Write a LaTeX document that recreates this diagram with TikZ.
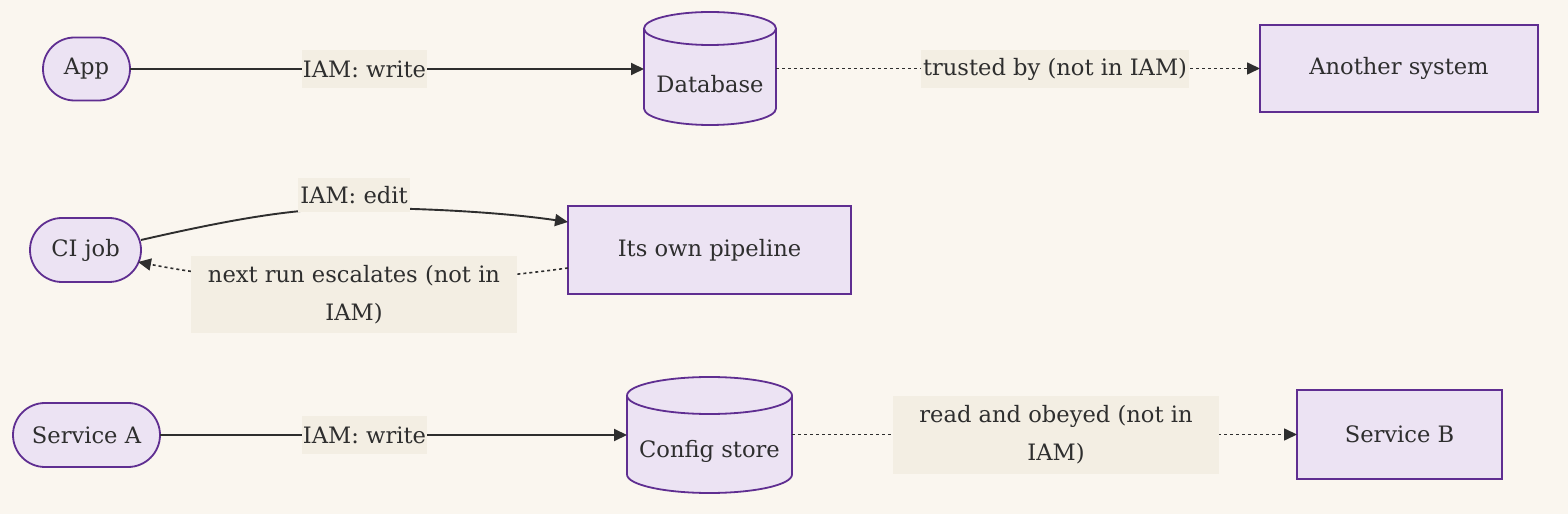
\documentclass[tikz,border=0pt]{standalone}
\usepackage{fontspec}
\setmainfont{DejaVu Serif}
\usetikzlibrary{arrows.meta,calc,shapes.misc}
\definecolor{bg}{HTML}{FAF6EF}
\definecolor{nfill}{HTML}{ECE3F3}
\definecolor{nborder}{HTML}{5F2E91}
\definecolor{lfill}{HTML}{F3EEE3}
\definecolor{ink}{HTML}{2E2E2E}
\tikzset{
  base/.style={inner sep=0pt, outer sep=0pt, text=ink},
  stadium/.style={base, rounded rectangle, draw=nborder, fill=nfill, line width=1.8pt},
  box/.style={base, rectangle, draw=nborder, fill=nfill, line width=1.8pt},
  ghost/.style={base, rectangle},
  cylbody/.style={draw=nborder, fill=nfill, line width=1.8pt},
  cylline/.style={draw=nborder, line width=1.8pt},
  lbl/.style={base, fill=lfill, align=center},
  edge/.style={draw=ink, line width=1.9pt, -{Triangle[length=13pt,width=12pt]}},
  dotedge/.style={draw=ink, line width=1.6pt, dash pattern=on 3pt off 3pt, -{Triangle[length=13pt,width=12pt]}},
}
\begin{document}
\begin{tikzpicture}[x=1pt,y=1pt, font=\fontsize{22.6}{38}\selectfont]
\fill[bg] (0,0) rectangle (1568,514);
\useasboundingbox (0,0) rectangle (1568,514);

% row 1
\node[stadium, minimum width=87pt, minimum height=63pt] (app) at (86.5,445) {App};
\node[ghost, minimum width=132pt, minimum height=113pt] (db) at (710,445.5) {};
\path[cylbody] ($(db.north west)+(0,-16.5)$) arc[start angle=180,end angle=0,x radius=66,y radius=16.5]
  -- ($(db.south east)+(0,16.5)$) arc[start angle=0,end angle=-180,x radius=66,y radius=16.5] -- cycle;
\draw[cylline] ($(db.north west)+(0,-16.5)$) arc[start angle=180,end angle=360,x radius=66,y radius=16.5];
\node[base] (dbtext) at ($(db.center)+(0,-15.5)$) {Database};
\node[box, minimum width=278pt, minimum height=87pt] (another) at (1399,445.5) {Another system};

% row 2
\node[stadium, minimum width=111pt, minimum height=64pt] (ci) at (85.5,264) {CI job};
\node[box, minimum width=283pt, minimum height=88pt] (pipe) at (709.5,264) {Its own pipeline};

% row 3
\node[stadium, minimum width=147pt, minimum height=64pt] (svca) at (86.5,79) {Service A};
\node[ghost, minimum width=165pt, minimum height=116pt] (cfg) at (709.5,79) {};
\path[cylbody] ($(cfg.north west)+(0,-18.5)$) arc[start angle=180,end angle=0,x radius=82.5,y radius=18.5]
  -- ($(cfg.south east)+(0,18.5)$) arc[start angle=0,end angle=-180,x radius=82.5,y radius=18.5] -- cycle;
\draw[cylline] ($(cfg.north west)+(0,-18.5)$) arc[start angle=180,end angle=360,x radius=82.5,y radius=18.5];
\node[base] (cfgtext) at ($(cfg.center)+(0,-16.5)$) {Config store};
\node[box, minimum width=205pt, minimum height=89pt] (svcb) at (1399.5,79.5) {Service B};

% edges
\draw[edge] (app.east) -- (app.east -| db.west);
\draw[dotedge] (db.east |- another.west) -- (another.west);
\draw[edge] ($(ci.east)+(0,10)$) .. controls (250,299) and (300,305) .. (354,306)
  .. controls (420,306) and (500,302) .. ($(pipe.west)+(0,28)$);
\draw[dotedge] ($(pipe.west)+(0,-18)$) .. controls (480,234) and (420,232) .. (354,232)
  .. controls (260,232) and (200,240) .. ($(ci.east)+(-3,-12)$);
\draw[edge] (svca.east) -- (svca.east -| cfg.west);
\draw[dotedge] (cfg.east |- svcb.west) -- (svcb.west);

% labels
\node[lbl, minimum width=125pt, minimum height=38pt] (l1) at (364.5,445) {IAM: write};
\node[lbl, minimum width=268pt, minimum height=38pt] (l2) at (1055,445) {trusted by (not in IAM)};
\node[lbl, minimum width=112pt, minimum height=34pt] (l3) at (354,319) {IAM: edit};
\node[lbl, minimum width=326pt, minimum height=77pt] (l4) at (354,219.5) {next run escalates (not in\\IAM)};
\node[lbl, minimum width=125pt, minimum height=38pt] (l5) at (364.5,79) {IAM: write};
\node[lbl, minimum width=326pt, minimum height=77pt] (l6) at (1056,79) {read and obeyed (not in\\IAM)};
\end{tikzpicture}
\end{document}
